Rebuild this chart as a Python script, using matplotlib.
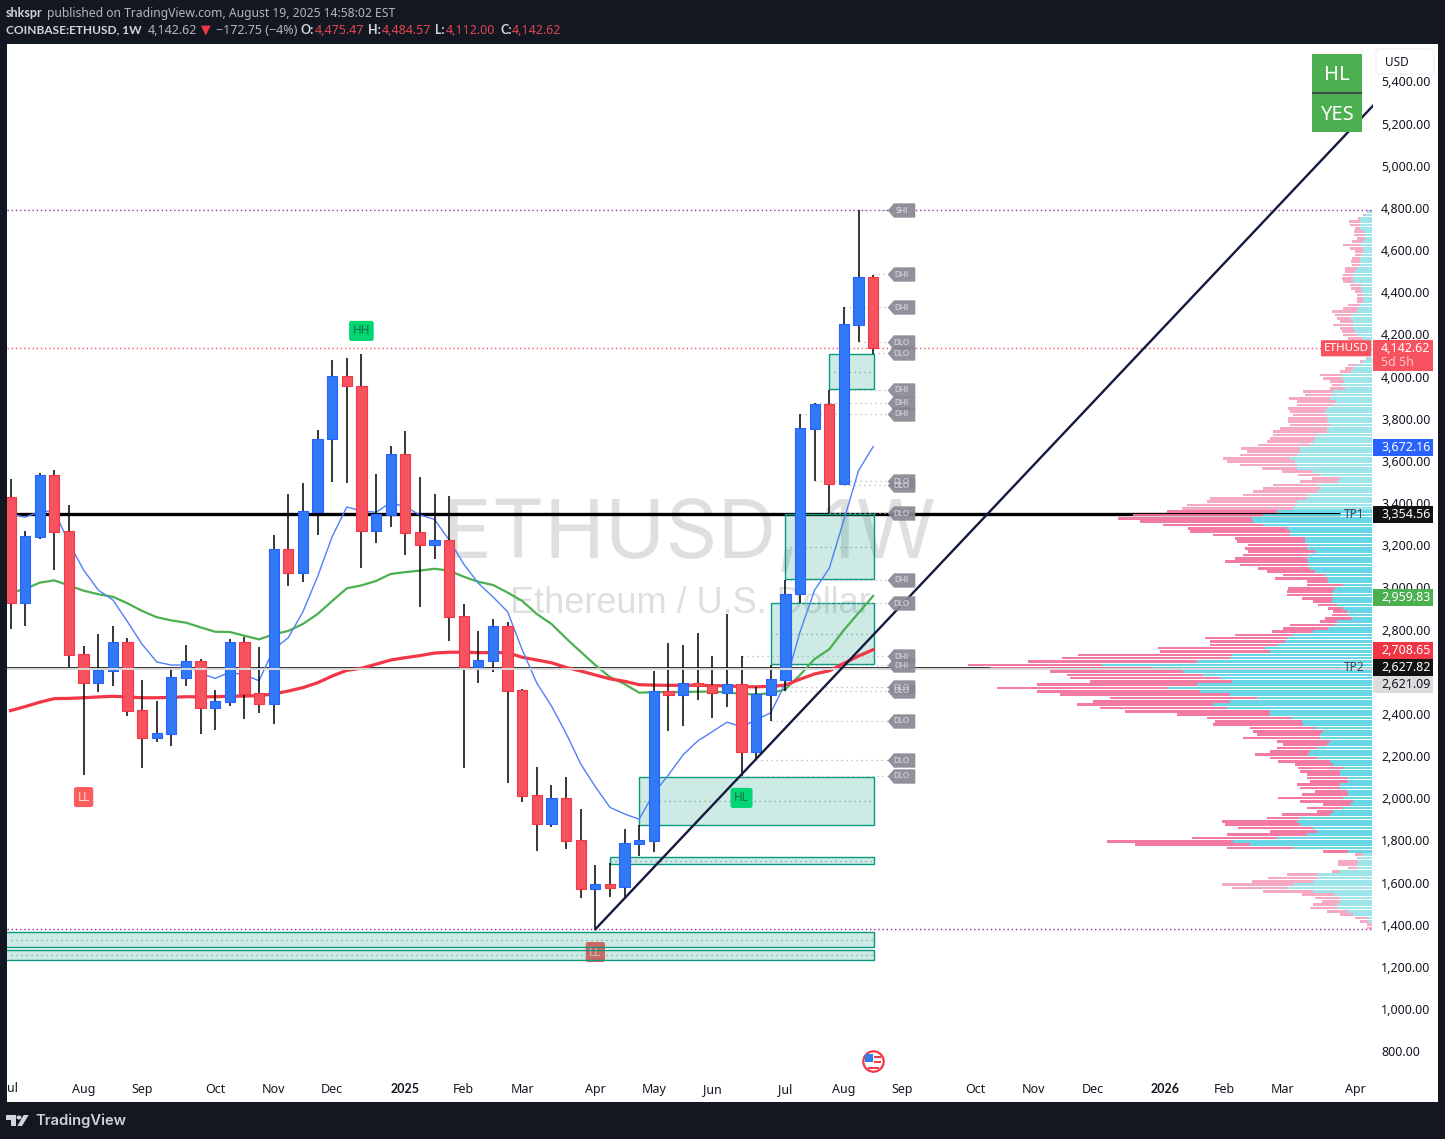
"""ETHUSD weekly chart with volume profile, TradingView style."""

import numpy as np
import matplotlib

matplotlib.use("Agg")
import matplotlib.pyplot as plt
from matplotlib.patches import Circle, FancyBboxPatch, Polygon, Rectangle
from matplotlib.path import Path

opens = [3428, 2925, 3241, 3534, 3268, 2683, 2548, 2605, 2742, 2419, 2288, 2307, 2572, 2651, 2430,
         2458, 2742, 2500, 2449, 3183, 3070, 3359, 3704, 4003, 3956, 3269, 3344, 3633, 3263, 3203,
         3225, 2865, 2624, 2653, 2817, 2514, 2016, 1880, 2002, 1802, 1571, 1594, 1581, 1783, 1799,
         2509, 2490, 2547, 2536, 2501, 2542, 2221, 2490, 2561, 2968, 3753, 3870, 3492, 4246, 4471]
closes = [2925, 3244, 3534, 3265, 2681, 2548, 2609, 2742, 2416, 2288, 2310, 2575, 2651, 2430, 2462,
          2742, 2496, 2449, 3183, 3070, 3363, 3704, 4003, 3956, 3269, 3349, 3633, 3260, 3203, 3225,
          2861, 2624, 2656, 2817, 2510, 2012, 1880, 2002, 1799, 1571, 1594, 1576, 1788, 1802, 2509,
          2490, 2547, 2533, 2501, 2542, 2221, 2495, 2566, 2969, 3755, 3870, 3492, 4250, 4471, 4137]
highs = [3515, 3268, 3542, 3557, 3391, 2722, 2779, 2817, 2760, 2561, 2462, 2613, 2727, 2661, 2514,
         2756, 2765, 2718, 3249, 3443, 3496, 3747, 4079, 4088, 4107, 3538, 3671, 3742, 3524, 3443,
         3434, 2922, 2794, 2851, 2836, 2518, 2149, 2063, 2101, 1949, 1684, 1693, 1854, 1873, 2604,
         2737, 2727, 2784, 2675, 2874, 2675, 2528, 2632, 3036, 3823, 3876, 3937, 4329, 4790, 4481]
lows = [2805, 2819, 3231, 3083, 2624, 2112, 2506, 2534, 2392, 2145, 2269, 2250, 2534, 2307, 2325,
        2439, 2378, 2406, 2354, 3008, 3027, 3249, 3502, 3497, 3094, 3212, 3288, 3154, 2909, 3137,
        2748, 2145, 2547, 2601, 2073, 1984, 1752, 1866, 1761, 1529, 1379, 1533, 1531, 1726, 1747,
        2321, 2344, 2466, 2382, 2435, 2107, 2181, 2368, 2510, 2926, 3505, 3353, 3485, 4164, 4106]

ma_blue = [3349, 3333, 3360, 3363, 3210, 3083, 2988, 2941, 2838, 2731, 2647, 2632, 2632, 2593, 2569,
           2598, 2585, 2558, 2707, 2762, 2885, 3051, 3241, 3382, 3363, 3357, 3402, 3383, 3344, 3323,
           3225, 3111, 3020, 2955, 2885, 2704, 2546, 2438, 2308, 2163, 2055, 1957, 1926, 1901, 2024,
           2111, 2206, 2272, 2316, 2361, 2340, 2372, 2406, 2546, 2789, 2988, 3091, 3320, 3554, 3668]
ma_green = [2975, 2993, 3023, 3034, 3009, 2985, 2968, 2956, 2925, 2889, 2859, 2844, 2833, 2811, 2790,
            2789, 2771, 2754, 2778, 2794, 2827, 2874, 2936, 2996, 3010, 3031, 3064, 3073, 3080, 3089,
            3080, 3051, 3027, 3012, 2976, 2936, 2874, 2827, 2759, 2695, 2632, 2575, 2542, 2501, 2504,
            2504, 2504, 2506, 2506, 2503, 2495, 2493, 2498, 2517, 2585, 2661, 2707, 2798, 2879, 2960]
ma_red = [2416, 2435, 2456, 2473, 2474, 2477, 2481, 2484, 2481, 2477, 2477, 2479, 2482, 2481, 2482,
          2484, 2485, 2487, 2495, 2509, 2525, 2548, 2580, 2607, 2617, 2636, 2656, 2667, 2677, 2689,
          2693, 2693, 2691, 2691, 2691, 2669, 2656, 2643, 2621, 2604, 2585, 2567, 2555, 2539, 2537,
          2536, 2536, 2537, 2534, 2534, 2529, 2529, 2531, 2537, 2565, 2590, 2605, 2640, 2675, 2705]

# volume profile rows, top to bottom
vp_total = [5, 9, 14, 23, 22, 17, 18, 18, 15, 20, 29, 22, 17, 17, 20, 21, 20, 27, 27, 29,
            30, 29, 22, 21, 17, 15, 15, 15, 24, 29, 40, 37, 35, 32, 39, 32, 30, 29, 24, 20,
            12, 10, 8, 7, 6, 12, 24, 27, 32, 52, 49, 42, 40, 42, 69, 67, 83, 75, 75, 84,
            82, 79, 84, 84, 82, 92, 99, 99, 102, 105, 114, 131, 125, 132, 149, 145, 132, 110, 90, 74,
            60, 72, 99, 109, 119, 129, 162,
            165, 185, 190, 205, 239, 254, 232, 209, 184, 182, 159, 137, 135, 124, 127, 124, 129, 137, 147, 132,
            114, 105, 89, 97, 65, 65, 84, 85, 85, 70, 59, 54, 44, 39, 40, 47, 52, 82, 89, 100,
            137, 167, 162, 162, 214, 212, 294, 310, 344, 404, 382, 322, 305, 302, 282, 335, 375, 335, 312, 262,
            279, 295, 272, 247, 195, 165, 157, 159, 122, 119, 115, 129,
            95, 89, 95, 102, 117, 102, 94, 77, 74, 72, 65, 65, 62, 75, 72, 57, 70, 94, 72, 49,
            65, 55, 90, 105, 150, 147, 134, 102, 145, 180, 265, 237, 145, 49, 17, 15, 34, 34, 24, 40,
            85, 104, 120, 150, 140, 109, 70, 57, 50, 59, 62, 45, 32, 17, 12, 5, 5]
vp_buy = [4, 7, 12, 12, 12, 12, 8, 8, 7, 9, 12, 9, 9, 10, 12, 12, 12, 15, 17, 19,
          19, 19, 11, 11, 10, 9, 9, 9, 12, 14, 15, 20, 21, 19, 19, 19, 17, 15, 9, 9,
          8, 8, 7, 6, 5, 9, 15, 19, 21, 30, 30, 28, 30, 27, 39, 40, 42, 36, 39, 45,
          47, 45, 45, 44, 42, 45, 45, 55, 57, 59, 62, 72, 72, 75, 82, 77, 75, 75, 59, 52,
          32, 35, 55, 52, 55, 64, 65,
          75, 77, 79, 95, 109, 120, 119, 109, 85, 82, 82, 67, 67, 64, 65, 57, 64, 65, 64, 64,
          62, 57, 47, 45, 44, 29, 37, 39, 40, 39, 40, 35, 29, 25, 24, 20, 35, 37, 44, 59,
          79, 85, 87, 95, 107, 102, 140, 142, 175, 270, 219, 189, 169, 152, 140, 175, 205, 172, 142, 115,
          142, 159, 145, 102, 102, 80, 70, 69, 57, 49, 52, 52,
          42, 45, 55, 62, 64, 55, 42, 39, 29, 32, 32, 25, 24, 32, 32, 25, 24, 29, 19, 22,
          30, 39, 42, 72, 75, 72, 59, 55, 65, 95, 139, 122, 79, 24, 9, 14, 14, 15, 15, 32,
          55, 55, 59, 79, 84, 59, 37, 32, 32, 35, 34, 25, 19, 5, 4, 0, 0]

# zones: first week, top price, bottom price
zones = [(56, 4106, 3940), (53, 3347, 3039), (52, 2925, 2636), (43, 2103, 1872),
         (41, 1723, 1687), (-1, 1364, 1293), (-1, 1281, 1232)]
# pivot tags: name, week the level starts, price
pivots = [("SHI", 58, 4790), ("DHI", 59, 4485), ("DHI", 57, 4329), ("DLO", 58, 4164), ("DLO", 59, 4112),
          ("DHI", 56, 3937), ("DHI", 55, 3876), ("DHI", 54, 3823), ("DLO", 55, 3505), ("DLO", 57, 3485),
          ("DLO", 56, 3353), ("DHI", 53, 3036), ("DLO", 54, 2926), ("DHI", 50, 2675), ("DHI", 52, 2632),
          ("DLO", 51, 2528), ("DLO", 53, 2510), ("DLO", 52, 2368), ("DLO", 51, 2181), ("DLO", 50, 2107)]
swing_labels = [("HH", 24, 4217, "#00d672", "#17704a"), ("LL", 5, 2006, "#fb5c5c", "#ffd5d5"),
                ("HL", 50, 2002, "#00d672", "#17704a")]

month_pos = [5, 9, 14, 18, 22, 27, 31, 35, 40, 44, 48, 53, 57, 61, 66, 70, 74, 79, 83, 87, 92]
month_names = ["Aug", "Sep", "Oct", "Nov", "Dec", "2025", "Feb", "Mar", "Apr", "May", "Jun", "Jul",
               "Aug", "Sep", "Oct", "Nov", "Dec", "2026", "Feb", "Mar", "Apr"]
price_ticks = list(range(800, 5600, 200))
trend_x = [40, 93.2]
trend_y = [1379, 5286]

# price labels sit a little above the level they name in the source
LEVEL_SHIFT = -8

W, H = 1445, 1139
DARK = "#131722"
FONT = ["Noto Sans", "DejaVu Sans"]
BOLD = "Lato"
plt.rcParams["font.family"] = FONT

fig = plt.figure(figsize=(W / 100, H / 100), dpi=100, facecolor=DARK)


def px_rect(x0, y0, x1, y1, **kw):
    fig.add_artist(Rectangle((x0 / W, 1 - y1 / H), (x1 - x0) / W, (y1 - y0) / H,
                             transform=fig.transFigure, **kw))


def px_poly(points, **kw):
    fig.add_artist(Polygon([(px / W, 1 - py / H) for px, py in points], transform=fig.transFigure,
                           edgecolor="none", **kw))


def px_text(x, y, s, **kw):
    kw.setdefault("va", "center")
    kw.setdefault("fontsize", 9)
    fig.text(x / W, 1 - y / H, s, **kw)


px_rect(7, 44, 1438, 1102, facecolor="white", edgecolor="none", zorder=-1)

ax = fig.add_axes([7 / W, 1 - 1102 / H, 1366 / W, 1058 / H])
ax.patch.set_visible(False)
vp = ax.twiny()
ax.set_zorder(2)
vp.set_zorder(1)
vp.patch.set_visible(False)
vp.xaxis.set_visible(False)
for a in (ax, vp):
    for sp in a.spines.values():
        sp.set_visible(False)

# watermark
vp.text(0.5, 0.534, "ETHUSD, 1W", transform=vp.transAxes, ha="center", va="center",
        fontsize=58.6, color="#dedfe1", family="Inter", zorder=0)
vp.text(0.5, 0.471, "Ethereum / U.S. Dollar", transform=vp.transAxes, ha="center", va="center",
        fontsize=26, color="#dedfe1", family="Liberation Sans", zorder=0)

# TP lines sit under the profile and the candles
line_tf = vp.get_yaxis_transform()
vp.plot([0, 0.976], [3354.56 + LEVEL_SHIFT, 3354.56 + LEVEL_SHIFT], color="black", lw=2.4, transform=line_tf,
        zorder=1, solid_capstyle="butt")
vp.plot([0, 0.976], [2627.82 + LEVEL_SHIFT, 2627.82 + LEVEL_SHIFT], color="black", lw=1.1, transform=line_tf,
        zorder=1, solid_capstyle="butt")

# volume profile
vp_total = np.array(vp_total)
vp_buy = np.array(vp_buy)
vp_prices = 4782 - 15.8 * np.arange(len(vp_total))
in_value_area = (vp_prices < 3362) & (vp_prices > 1742)
pink = np.where(in_value_area, "#f2709c", "#f5a3bf")
cyan = np.where(in_value_area, "#5dd3e6", "#97e2ea")
vp.barh(vp_prices, vp_total - vp_buy, left=vp_buy, height=12.5, color=list(pink), alpha=0.93, lw=0, zorder=2)
vp.barh(vp_prices, vp_buy, height=12.5, color=list(cyan), alpha=0.93, lw=0, zorder=2)
vp.set_xlim(1365, -1)

x = np.arange(len(opens))
opens, closes, highs, lows = map(np.array, (opens, closes, highs, lows))
up = closes >= opens
body_low = np.minimum(opens, closes)
body_h = np.abs(closes - opens)

# swing label hidden under the lower zones
ax.text(40, 1271, "LL", ha="center", va="center", fontsize=8.5, color="#ffd5d5", zorder=1,
        bbox=dict(boxstyle="round,pad=0.3,rounding_size=0.2", fc="#fb5c5c", ec="none"))

for start, top, bottom in zones:
    ax.add_patch(Rectangle((start, bottom), 59.05 - start, top - bottom, facecolor="#089981", alpha=0.2,
                           edgecolor="none", zorder=1.5))
    ax.add_patch(Rectangle((start, bottom), 59.05 - start, top - bottom, facecolor="none",
                           edgecolor="#089981", lw=1.0, zorder=1.6))
    ax.plot([max(start, 0), 59], [(top + bottom) / 2] * 2, color="#7d9d97", lw=0.9, ls=(0, (1, 3)), zorder=1.7)

ax.plot(x, ma_green, color="#4caf50", lw=1.6, zorder=2)
ax.plot(x, ma_red, color="#f23645", lw=2.3, zorder=2.1)
ax.plot(x, ma_blue, color="#4f80f7", lw=1.0, zorder=2.2)

ax.vlines(x, lows, highs, color="black", lw=1.1, zorder=2.5)
ax.bar(x[up], body_h[up], bottom=body_low[up], width=0.7, color="#3179f5", edgecolor="#2962ff", lw=0.8, zorder=3)
ax.bar(x[~up], body_h[~up], bottom=body_low[~up], width=0.7, color="#f7525f", edgecolor="#f23645", lw=0.8, zorder=3)

# grey last-price line runs over the candles
ax.axhline(2621.09 + LEVEL_SHIFT, color="#d9d9d9", lw=1.4, zorder=3.5)

# extreme levels and last close
ax.axhline(4790, color="#9c27b0", lw=1, ls=(0, (1, 2)), zorder=1.8)
ax.axhline(1379, color="#9c27b0", lw=1, ls=(0, (1, 2)), zorder=1.8)
ax.axhline(4142.62 + LEVEL_SHIFT, color="#f7525f", lw=1, ls=(0, (1, 2)), zorder=1.8)

ax.plot(trend_x, trend_y, color="#131a3d", lw=1.7, zorder=4, clip_on=True)

# pivot level tags
tag_marker = Path([(-1, 0), (-0.55, 0.52), (1, 0.52), (1, -0.52), (-0.55, -0.52), (-1, 0)], closed=True)
for name, start, price in pivots:
    ax.plot([start, 60.9], [price, price], color="#b4b5ba", lw=0.9, ls=(0, (1, 3)), zorder=1.8)
    ax.scatter([60.9], [price], marker=tag_marker, s=395, color="#878892", alpha=0.92, lw=0, zorder=4.2)
    ax.text(60.95, price, name, ha="center", va="center", fontsize=5.6, fontweight="bold", family=BOLD,
            color="#d0d1d6", zorder=4.3)

for name, wk, price, bg, fg in swing_labels:
    ax.text(wk, price, name, ha="center", va="center", fontsize=8.5, color=fg, zorder=5,
            bbox=dict(boxstyle="round,pad=0.3,rounding_size=0.2", fc=bg, ec="none"))

# economic calendar flag: ring, stripes, canton
ax.scatter([59], [754], s=215, facecolor="white", edgecolor="#f23645", lw=1.6, zorder=5)
ax.scatter([59.3, 59.3, 59.0], [772, 748, 722], marker="_", s=[30, 30, 60], color="#f23645", lw=1.4, zorder=5.1)
ax.scatter([58.75], [770], marker="s", s=26, color="#2d7fe8", lw=0, zorder=5.2)

ax.set_xlim(-0.24, 93.19)
ax.set_ylim(559.7, 5577.8)
ax.set_xticks(month_pos)
ax.set_xticklabels(month_names)
ax.tick_params(axis="x", length=0, pad=-14, labelsize=9, colors=DARK)
for lab, name in zip(ax.get_xticklabels(), month_names):
    if name.startswith("20"):
        lab.set_fontweight("bold")
        lab.set_family(BOLD)
ax.yaxis.tick_right()
ax.set_yticks(price_ticks)
ax.set_yticklabels([f"{p:,.2f}" for p in price_ticks])
ax.tick_params(axis="y", length=0, pad=5.8, labelsize=9, colors=DARK)
ax.text(0.0, 0.01323, "ul", transform=ax.transAxes, ha="left", va="center", fontsize=9, color=DARK)

# price scale tags
tag_tf = ax.get_yaxis_transform()
AX_PX = 1366
PER_PX = (5577.8 - 559.7) / 1058


def price_tag(price, text, bg, fg, height=17.5, sub=None):
    top = price + 8.75 * PER_PX
    h = height * PER_PX
    ax.add_patch(Rectangle((1.0002, top - h), 60 / AX_PX, h, transform=tag_tf, facecolor=bg, edgecolor="none",
                           clip_on=False, zorder=8))
    ax.text(1 + 8 / AX_PX, price, text, transform=tag_tf, ha="left", va="center", fontsize=9, color=fg,
            clip_on=False, zorder=9)
    if sub:
        ax.text(1 + 8 / AX_PX, price - 14 * PER_PX, sub, transform=tag_tf, ha="left", va="center",
                fontsize=9, color="#ffc4c9", clip_on=False, zorder=9)


price_tag(4142.62 + LEVEL_SHIFT, "4,142.62", "#f7525f", "white", height=31, sub="5d 5h")
price_tag(3672.16 + LEVEL_SHIFT, "3,672.16", "#2962ff", "white")
price_tag(3354.56 + LEVEL_SHIFT, "3,354.56", "#131313", "white")
price_tag(2959.83 + LEVEL_SHIFT, "2,959.83", "#4caf50", "white")
price_tag(2708.65 + LEVEL_SHIFT, "2,708.65", "#f23645", "white")
price_tag(2627.82 + LEVEL_SHIFT, "2,627.82", "#131313", "white")
price_tag(2541, "2,621.09", "#dcdcdc", DARK)

ax.text((1322 + 24 - 7) / AX_PX, 4142.62 + LEVEL_SHIFT, "ETHUSD", transform=tag_tf, ha="center", va="center",
        fontsize=8.4, color="white", zorder=9,
        bbox=dict(boxstyle="round,pad=0.22,rounding_size=0.1", fc="#f7525f", ec="none"))
ax.text((1344 - 7) / AX_PX, 3354.56 + LEVEL_SHIFT, "TP1", transform=tag_tf, ha="left", va="center", fontsize=8.5,
        color="#3f4650", zorder=6)
ax.text((1344 - 7) / AX_PX, 2627.82 + LEVEL_SHIFT, "TP2", transform=tag_tf, ha="left", va="center", fontsize=8.5,
        color="#3f4650", zorder=6)

# header
px_text(6, 13, "shkspr", color="#d1d4dc", fontweight="bold", family=BOLD)
px_text(47.5, 13, "published on TradingView.com, August 19, 2025 14:58:02 EST", color="#b2b5be", fontsize=8.75)
px_text(6, 30, "COINBASE:ETHUSD, 1W", color="#d1d4dc", fontweight="bold", family=BOLD, fontsize=8.6)
px_text(148, 30, "4,142.62", color="#b2b5be")
px_text(201, 30, "▼", color="#f23645")
px_text(215.5, 30, "−172.75 (−4%)", color="#b2b5be")
for lx, lbl, vx, val in [(300.4, "O:", 315, "4,475.47"), (368, "H:", 382, "4,484.57"),
                         (435.5, "L:", 446, "4,112.00"), (500.6, "C:", 512, "4,142.62")]:
    px_text(lx, 30, lbl, color="#d1d4dc", fontweight="bold", family=BOLD)
    px_text(vx, 30, val, color="#e0474f")

# HL / YES table
px_rect(1312, 54, 1362, 92, facecolor="#4caf50", edgecolor="none", zorder=5)
px_rect(1312, 94, 1362, 132, facecolor="#4caf50", edgecolor="none", zorder=5)
px_rect(1312, 92, 1362, 94, facecolor="#3b4a44", edgecolor="none", zorder=5)
px_text(1337, 75, "HL", ha="center", color="white", fontsize=14.5, zorder=6)
px_text(1337, 115, "YES", ha="center", color="white", fontsize=14.5, zorder=6)

# currency button
fig.add_artist(FancyBboxPatch((1376 / W, 1 - 74 / H), 58 / W, 25 / H, transform=fig.transFigure,
                              boxstyle="round,pad=0,rounding_size=0.003", facecolor="white",
                              edgecolor="#f0f1f3", lw=1, zorder=5))
px_text(1385, 62, "USD", color=DARK, fontsize=8.5, zorder=6)

# footer logo
logo = "#d1d4dc"
px_poly([(6, 1115), (16, 1115), (16, 1126), (11, 1126), (11, 1120), (6, 1120)], facecolor=logo)
fig.add_artist(Circle((19 / W, 1 - 1117.5 / H), 2.5 / W, transform=fig.transFigure, facecolor=logo, edgecolor="none"))
px_poly([(23.7, 1115), (28.7, 1115), (22, 1126), (17.3, 1126)], facecolor=logo)
px_text(35, 1120.5, "TradingView", color=logo, fontsize=10.6, fontweight="semibold", family="Inter")

fig.savefig("out.png", dpi=100, facecolor=DARK)
